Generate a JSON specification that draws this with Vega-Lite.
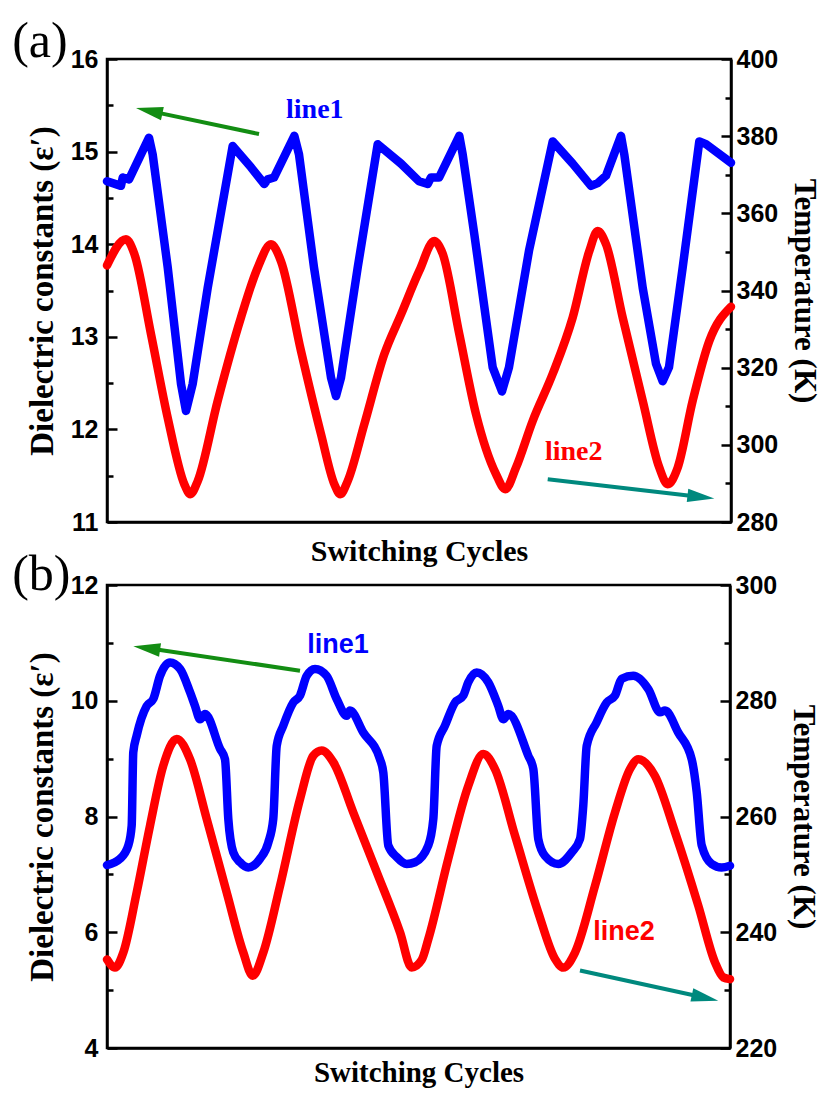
{
  "$schema": "https://vega.github.io/schema/vega-lite/v6.json",
  "background": "white",
  "padding": {"top": 15, "left": 10, "right": 2, "bottom": 2},
  "datasets": {
    "a_eps": [
      {"t":0,"v":14.68},{"t":2.24,"v":14.63},{"t":2.52,"v":14.72},{"t":3.53,"v":14.7},{"t":6.73,"v":15.15},{"t":7.32,"v":14.97},{"t":9.73,"v":13.75},{"t":11.86,"v":12.49},{"t":12.66,"v":12.2},{"t":13.73,"v":12.49},{"t":16.14,"v":13.53},{"t":20.14,"v":15.06},{"t":23.08,"v":14.83},{"t":25.21,"v":14.65},{"t":25.75,"v":14.7},{"t":26.76,"v":14.72},{"t":30.02,"v":15.17},{"t":30.77,"v":14.97},{"t":33.17,"v":13.75},{"t":35.9,"v":12.56},{"t":36.7,"v":12.36},{"t":37.5,"v":12.56},{"t":40.18,"v":13.75},{"t":43.38,"v":15.08},{"t":47.12,"v":14.87},{"t":50,"v":14.68},{"t":51.39,"v":14.65},{"t":51.92,"v":14.72},{"t":53.21,"v":14.72},{"t":56.46,"v":15.17},{"t":57,"v":14.97},{"t":58.86,"v":14.11},{"t":61.81,"v":12.67},{"t":63.3,"v":12.41},{"t":64.42,"v":12.67},{"t":67.63,"v":13.93},{"t":71.43,"v":15.11},{"t":74.63,"v":14.87},{"t":77.56,"v":14.63},{"t":78.64,"v":14.66},{"t":79.97,"v":14.74},{"t":82.37,"v":15.17},{"t":82.9,"v":14.97},{"t":85.85,"v":13.53},{"t":87.98,"v":12.71},{"t":89.05,"v":12.52},{"t":90.06,"v":12.67},{"t":92.26,"v":13.75},{"t":94.92,"v":15.11},{"t":95.99,"v":15.08},{"t":100,"v":14.88}
    ],
    "a_T": [
      {"t":0,"v":346.5},{"t":3.04,"v":353.3},{"t":4.38,"v":349.5},{"t":7.05,"v":328.7},{"t":9.73,"v":307},{"t":12.39,"v":289.8},{"t":13.35,"v":287.2},{"t":14.54,"v":290.6},{"t":17.74,"v":311.4},{"t":21.47,"v":333},{"t":24.15,"v":345.9},{"t":26.28,"v":352},{"t":27.88,"v":347.6},{"t":31.09,"v":324.3},{"t":34.29,"v":302.8},{"t":36.43,"v":289.8},{"t":37.39,"v":287.2},{"t":38.57,"v":290.6},{"t":41.23,"v":305.3},{"t":44.44,"v":323.5},{"t":47.12,"v":333.8},{"t":50.05,"v":345.1},{"t":52.45,"v":352.8},{"t":53.8,"v":349.5},{"t":56.46,"v":328.7},{"t":59.13,"v":308},{"t":62.34,"v":292.4},{"t":63.83,"v":288.5},{"t":65.54,"v":294.1},{"t":68.22,"v":306.2},{"t":71.43,"v":318.4},{"t":74.63,"v":333},{"t":77.29,"v":350.2},{"t":78.64,"v":355.4},{"t":79.97,"v":352},{"t":82.64,"v":333},{"t":85.85,"v":311.4},{"t":88.51,"v":294.1},{"t":89.86,"v":289.8},{"t":91.46,"v":294.1},{"t":93.86,"v":311.4},{"t":96.52,"v":326.9},{"t":100,"v":335.8}
    ],
    "b_eps": [
      {"t":0,"v":7.16},{"t":2.09,"v":7.27},{"t":3.42,"v":7.5},{"t":3.96,"v":7.84},{"t":4.22,"v":9.11},{"t":4.77,"v":9.4},{"t":6.37,"v":9.91},{"t":7.43,"v":10.03},{"t":8.51,"v":10.43},{"t":10.11,"v":10.66},{"t":11.72,"v":10.55},{"t":13.32,"v":10.15},{"t":14.13,"v":9.91},{"t":14.93,"v":9.68},{"t":15.73,"v":9.77},{"t":18.14,"v":9.17},{"t":18.94,"v":8.99},{"t":19.47,"v":7.96},{"t":20.27,"v":7.38},{"t":21.35,"v":7.21},{"t":22.68,"v":7.12},{"t":24.56,"v":7.27},{"t":25.89,"v":7.55},{"t":26.69,"v":7.96},{"t":27.24,"v":9.22},{"t":28.3,"v":9.57},{"t":29.9,"v":9.97},{"t":30.98,"v":10.09},{"t":32.05,"v":10.43},{"t":33.39,"v":10.55},{"t":35.26,"v":10.43},{"t":36.87,"v":10.03},{"t":38.48,"v":9.74},{"t":39,"v":9.83},{"t":41.14,"v":9.45},{"t":43.82,"v":8.99},{"t":44.35,"v":8.76},{"t":45.15,"v":7.5},{"t":46.5,"v":7.3},{"t":48.11,"v":7.18},{"t":49.44,"v":7.21},{"t":51.57,"v":7.5},{"t":52.38,"v":7.96},{"t":52.92,"v":9.22},{"t":54.25,"v":9.57},{"t":55.86,"v":9.97},{"t":57.19,"v":10.09},{"t":57.99,"v":10.32},{"t":59.34,"v":10.49},{"t":61.2,"v":10.32},{"t":62.81,"v":9.91},{"t":63.61,"v":9.68},{"t":64.41,"v":9.77},{"t":67.62,"v":9.05},{"t":68.43,"v":8.82},{"t":69.23,"v":7.61},{"t":70.3,"v":7.32},{"t":72.44,"v":7.18},{"t":74.59,"v":7.38},{"t":75.92,"v":7.61},{"t":76.45,"v":8.19},{"t":77,"v":9.22},{"t":78.6,"v":9.63},{"t":80.21,"v":9.97},{"t":81.54,"v":10.09},{"t":82.62,"v":10.38},{"t":84.48,"v":10.43},{"t":86.89,"v":10.2},{"t":88.76,"v":9.8},{"t":89.57,"v":9.83},{"t":91.7,"v":9.45},{"t":93.85,"v":8.99},{"t":94.66,"v":8.42},{"t":95.46,"v":7.5},{"t":97.06,"v":7.18},{"t":98.67,"v":7.12},{"t":100,"v":7.15}
    ],
    "b_T": [
      {"t":0,"v":235.3},{"t":1.28,"v":233.9},{"t":2.62,"v":236.5},{"t":4.77,"v":246.9},{"t":6.9,"v":258.4},{"t":9.04,"v":268.8},{"t":11.19,"v":273.4},{"t":13.32,"v":269.9},{"t":16,"v":259.6},{"t":19.21,"v":246.9},{"t":21.88,"v":236.5},{"t":23.39,"v":232.5},{"t":25.09,"v":236.5},{"t":27.77,"v":248},{"t":30.98,"v":263},{"t":33.11,"v":270.5},{"t":34.46,"v":271.4},{"t":36.32,"v":269.4},{"t":39.53,"v":260.7},{"t":43.29,"v":250.4},{"t":47.03,"v":240},{"t":48.91,"v":233.9},{"t":50.5,"v":235.2},{"t":51.57,"v":238.8},{"t":54.78,"v":252.7},{"t":57.99,"v":265.3},{"t":60.4,"v":270.8},{"t":62.28,"v":268.2},{"t":65.49,"v":256.7},{"t":69.23,"v":243.4},{"t":71.91,"v":235.4},{"t":73.24,"v":233.9},{"t":75.12,"v":236.5},{"t":78.33,"v":248},{"t":81.54,"v":260.7},{"t":83.95,"v":268.2},{"t":85.28,"v":269.9},{"t":87.96,"v":267},{"t":91.17,"v":257.3},{"t":94.91,"v":244.6},{"t":97.59,"v":234.8},{"t":98.92,"v":232.2},{"t":100,"v":231.9}
    ]
  },
  "vconcat": [
    {
      "width": 624,
      "height": 463,
      "title": {"text": "(a)", "anchor": "start", "frame": "bounds", "dx": -14, "offset": -20},
      "layer": [
        {
          "encoding": {
            "x": {"field": "t", "type": "quantitative", "scale": {"domain": [0, 100], "nice": false, "zero": false}, "axis": {"title": "Switching Cycles", "ticks": false, "labels": false, "titlePadding": 14, "titleFontSize": 30}},
            "y": {"field": "v", "type": "quantitative", "scale": {"domain": [11, 16], "nice": false, "zero": false},
              "axis": {"orient": "left", "title": "Dielectric constants (ε′)", "titleFontSize": 33, "values": [11, 11.5, 12, 12.5, 13, 13.5, 14, 14.5, 15, 15.5, 16], "labelExpr": "datum.value % 1 === 0 ? format(datum.value, 'd') : ''", "labelFontSize": 25, "tickSize": {"condition": {"test": "datum.value % 1 === 0", "value": -10}, "value": -6}, "labelPadding": 19, "titlePadding": 11}}
          },
          "layer": [
            {"data": {"name": "a_eps"}, "mark": {"type": "line", "color": "#0000ff", "strokeWidth": 8.5, "strokeJoin": "round", "strokeCap": "round"}},
            {"data": {"values": [{"t": 24.36, "v": 15.19, "t2": 6.76, "v2": 15.44}]}, "mark": {"type": "rule", "color": "#138d13", "strokeWidth": 4}, "encoding": {"x2": {"field": "t2"}, "y2": {"field": "v2"}}},
            {"data": {"values": [{"t": 6.76, "v": 15.44}]}, "mark": {"type": "point", "shape": "M-1,0L1,-0.5L1,0.5Z", "angle": 12, "size": 729, "filled": true, "opacity": 1, "color": "#138d13"}},
            {"data": {"values": [{"t": 33.3, "v": 15.45, "label": "line1"}]}, "mark": {"type": "text", "font": "Liberation Serif", "fontWeight": "bold", "fontSize": 28, "color": "#0000ff"}, "encoding": {"text": {"field": "label"}}}
          ]
        },
        {
          "encoding": {
            "x": {"field": "t", "type": "quantitative", "scale": {"domain": [0, 100], "nice": false, "zero": false}, "axis": {"title": "Switching Cycles", "ticks": false, "labels": false, "titlePadding": 14, "titleFontSize": 30}},
            "y": {"field": "v", "type": "quantitative", "scale": {"domain": [280, 400], "nice": false, "zero": false},
              "axis": {"orient": "right", "title": "Temperature (K)", "titleFontSize": 31, "values": [280, 290, 300, 310, 320, 330, 340, 350, 360, 370, 380, 390, 400], "labelExpr": "datum.value % 20 === 0 ? format(datum.value, 'd') : ''", "labelFontSize": 25, "tickSize": {"condition": {"test": "datum.value % 20 === 0", "value": -10}, "value": -6}, "labelPadding": 15, "titlePadding": 10}}
          },
          "layer": [
            {"data": {"name": "a_T"}, "mark": {"type": "line", "color": "#ff0000", "strokeWidth": 8.5, "strokeJoin": "round", "strokeCap": "round", "interpolate": "monotone"}},
            {"data": {"values": [{"t": 70.63, "v": 291.06, "t2": 95.18, "v2": 286.5}]}, "mark": {"type": "rule", "color": "#00897e", "strokeWidth": 4}, "encoding": {"x2": {"field": "t2"}, "y2": {"field": "v2"}}},
            {"data": {"values": [{"t": 95.18, "v": 286.5}]}, "mark": {"type": "point", "shape": "M1,0L-1,-0.5L-1,0.5Z", "angle": 6.5, "size": 729, "filled": true, "opacity": 1, "color": "#00897e"}},
            {"data": {"values": [{"t": 74.8, "v": 298.1, "label": "line2"}]}, "mark": {"type": "text", "font": "Liberation Serif", "fontWeight": "bold", "fontSize": 28, "color": "#ff0000"}, "encoding": {"text": {"field": "label"}}}
          ]
        }
      ],
      "resolve": {"scale": {"y": "independent"}}
    },
    {
      "width": 623,
      "height": 463,
      "title": {"text": "(b)", "anchor": "start", "frame": "bounds", "dx": -14, "offset": -27},
      "layer": [
        {
          "encoding": {
            "x": {"field": "t", "type": "quantitative", "scale": {"domain": [0, 100], "nice": false, "zero": false}, "axis": {"title": "Switching Cycles", "ticks": false, "labels": false, "titlePadding": 10, "titleFontSize": 29}},
            "y": {"field": "v", "type": "quantitative", "scale": {"domain": [4, 12], "nice": false, "zero": false},
              "axis": {"orient": "left", "title": "Dielectric constants (ε′)", "titleFontSize": 33, "values": [4, 5, 6, 7, 8, 9, 10, 11, 12], "labelExpr": "datum.value % 2 === 0 ? format(datum.value, 'd') : ''", "labelFontSize": 25, "tickSize": {"condition": {"test": "datum.value % 2 === 0", "value": -10}, "value": -6}, "labelPadding": 19, "titlePadding": 11}}
          },
          "layer": [
            {"data": {"name": "b_eps"}, "mark": {"type": "line", "color": "#0000ff", "strokeWidth": 8.5, "strokeJoin": "round", "strokeCap": "round", "interpolate": "monotone"}},
            {"data": {"values": [{"t": 30.98, "v": 10.52, "t2": 6.37, "v2": 10.91}]}, "mark": {"type": "rule", "color": "#138d13", "strokeWidth": 4}, "encoding": {"x2": {"field": "t2"}, "y2": {"field": "v2"}}},
            {"data": {"values": [{"t": 6.37, "v": 10.91}]}, "mark": {"type": "point", "shape": "M-1,0L1,-0.5L1,0.5Z", "angle": 8.3, "size": 729, "filled": true, "opacity": 1, "color": "#138d13"}},
            {"data": {"values": [{"t": 37.08, "v": 10.96, "label": "line1"}]}, "mark": {"type": "text", "font": "Liberation Sans", "fontWeight": "bold", "fontSize": 27, "color": "#0000ff"}, "encoding": {"text": {"field": "label"}}}
          ]
        },
        {
          "encoding": {
            "x": {"field": "t", "type": "quantitative", "scale": {"domain": [0, 100], "nice": false, "zero": false}, "axis": {"title": "Switching Cycles", "ticks": false, "labels": false, "titlePadding": 10, "titleFontSize": 29}},
            "y": {"field": "v", "type": "quantitative", "scale": {"domain": [220, 300], "nice": false, "zero": false},
              "axis": {"orient": "right", "title": "Temperature (K)", "titleFontSize": 31, "values": [220, 230, 240, 250, 260, 270, 280, 290, 300], "labelExpr": "datum.value % 20 === 0 ? format(datum.value, 'd') : ''", "labelFontSize": 25, "tickSize": {"condition": {"test": "datum.value % 20 === 0", "value": -10}, "value": -6}, "labelPadding": 15, "titlePadding": 10}}
          },
          "layer": [
            {"data": {"name": "b_T"}, "mark": {"type": "line", "color": "#ff0000", "strokeWidth": 8.5, "strokeJoin": "round", "strokeCap": "round", "interpolate": "monotone"}},
            {"data": {"values": [{"t": 75.92, "v": 233.4, "t2": 96.0, "v2": 228.67}]}, "mark": {"type": "rule", "color": "#00897e", "strokeWidth": 4}, "encoding": {"x2": {"field": "t2"}, "y2": {"field": "v2"}}},
            {"data": {"values": [{"t": 96.0, "v": 228.67}]}, "mark": {"type": "point", "shape": "M1,0L-1,-0.5L-1,0.5Z", "angle": 12.2, "size": 729, "filled": true, "opacity": 1, "color": "#00897e"}},
            {"data": {"values": [{"t": 82.99, "v": 240.0, "label": "line2"}]}, "mark": {"type": "text", "font": "Liberation Sans", "fontWeight": "bold", "fontSize": 27, "color": "#ff0000"}, "encoding": {"text": {"field": "label"}}}
          ]
        }
      ],
      "resolve": {"scale": {"y": "independent"}}
    }
  ],
  "spacing": 63,
  "bounds": "flush",
  "config": {
    "view": {"stroke": "#000000", "strokeWidth": 2.5},
    "axis": {
      "grid": false,
      "domainColor": "#000000",
      "domainWidth": 2.5,
      "tickColor": "#000000",
      "tickWidth": 2.5,
      "labelFont": "Liberation Sans",
      "labelFontWeight": "bold",
      "labelFontSize": 25,
      "labelColor": "#000000",
      "titleFont": "Liberation Serif",
      "titleFontWeight": "bold",
      "titleFontSize": 30,
      "titleColor": "#000000"
    },
    "title": {"font": "Liberation Serif", "fontWeight": "normal", "fontSize": 50, "color": "#000000"}
  }
}
